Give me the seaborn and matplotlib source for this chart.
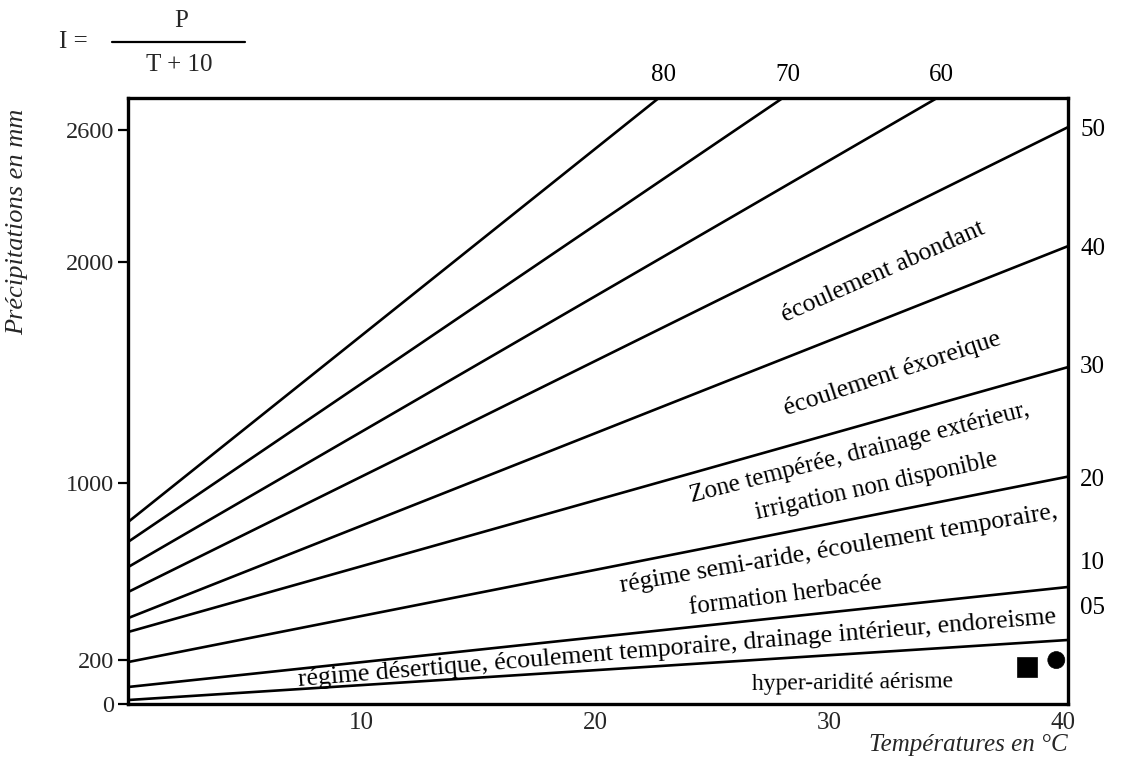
import matplotlib
matplotlib.use("Agg")
import math
import matplotlib.pyplot as plt
import seaborn as sns
import pandas as pd
from matplotlib.lines import Line2D

# ---- data ----
index_labels = ["80", "70", "60", "50", "40", "30", "20", "10", "05"]
start_T = [0, 0, 0, 0, 0, 0, 0, 0, 0]
start_P = [824, 734, 620, 507, 389, 326, 190, 77, 18]
end_T = [22.7, 28.0, 34.6, 40.2, 40.2, 40.2, 40.2, 40.2, 40.2]
end_P = [2745, 2745, 2745, 2613, 2074, 1526, 1030, 530, 290]

station_names = ["carré", "rond"]
station_T = [38.45, 39.7]
station_P = [168, 199]

y_ticks = [0, 200, 1000, 2000, 2600]
x_ticks = [10, 20, 30, 40]

zone_texts = [
    "écoulement abondant",
    "écoulement éxoreique",
    "Zone tempérée, drainage extérieur,",
    "irrigation non disponible",
    "régime semi-aride, écoulement temporaire,",
    "formation herbacée",
    "régime désertique, écoulement temporaire, drainage intérieur, endoreisme",
    "hyper-aridité aérisme",
]
# layout: band (lower line, upper line), temperature of centre, fraction in band
zone_lower = ["40", "30", "20", "20", "10", "10", "05", None]
zone_upper = ["50", "40", "30", "30", "20", "20", "10", "05"]
zone_T = [32.3, 32.7, 31.3, 32.0, 30.4, 28.1, 23.5, 31.0]
zone_frac = [0.47, 0.42, 0.70, 0.30, 0.70, 0.26, 0.45, 0.42]
zone_size = [18.5, 18.5, 18, 18, 18.5, 18, 18.5, 17]

right_labels = ["50", "40", "30", "20", "10", "05"]
right_label_P = [2600, 2060, 1526, 1014, 639, 435]
top_labels = ["80", "70", "60"]

# ---- build table ----
rows = []
for lab, t0, p0, t1, p1 in zip(index_labels, start_T, start_P, end_T, end_P):
    rows.append({"I": lab, "T": t0, "P": p0})
    rows.append({"I": lab, "T": t1, "P": p1})
df = pd.DataFrame(rows)
st = pd.DataFrame({"station": station_names, "T": station_T, "P": station_P})

sns.set_theme(style="white")
plt.rcParams["font.family"] = ["Liberation Serif", "DejaVu Serif"]

fig = plt.figure(figsize=(11.48, 7.69), dpi=100)
ax = fig.add_axes([128 / 1148, 1 - 704 / 769, 940 / 1148, 606 / 769])

sns.lineplot(data=df, x="T", y="P", units="I", estimator=None, color="black",
             linewidth=1.9, ax=ax, legend=False)
sns.scatterplot(data=st, x="T", y="P", style="station", markers={"carré": "s", "rond": "o"},
                color="black", edgecolor="black", ax=ax, legend=False)
ax.collections[-1].set_sizes([210, 150])

ax.set_xlim(0, 40.2)
ax.set_ylim(0, 2745)
ax.set_xticks(x_ticks)
ax.set_xticklabels([str(v) for v in x_ticks], fontsize=18)
ax.set_yticks(y_ticks)
ax.set_yticklabels([str(v) for v in y_ticks], fontsize=17.5)
ax.tick_params(axis="y", direction="out", length=7, width=1.6, color="black", pad=3, left=True)
ax.tick_params(axis="x", length=0, pad=6)
ax.set_xlabel("")
ax.set_ylabel("")
for s in ax.spines.values():
    s.set_color("black")
    s.set_linewidth(2.4)


def line_P(lab, t):
    if lab is None:
        return 0.0
    i = index_labels.index(lab)
    t0, p0, t1, p1 = start_T[i], start_P[i], end_T[i], end_P[i]
    return p0 + (p1 - p0) * (t - t0) / (t1 - t0)


for txt, lo, up, t, f, fs in zip(zone_texts, zone_lower, zone_upper, zone_T, zone_frac, zone_size):
    p = line_P(lo, t) + f * (line_P(up, t) - line_P(lo, t))
    # screen angle of the band's midline
    dt = 2.0
    pa = line_P(lo, t - dt) + f * (line_P(up, t - dt) - line_P(lo, t - dt))
    pb = line_P(lo, t + dt) + f * (line_P(up, t + dt) - line_P(lo, t + dt))
    xa, ya = ax.transData.transform((t - dt, pa))
    xb, yb = ax.transData.transform((t + dt, pb))
    ang = math.degrees(math.atan2(yb - ya, xb - xa))
    if lo is None:
        ang *= 0.5
    ax.text(t, p, txt, rotation=ang, rotation_mode="anchor", ha="center", va="center",
            fontsize=fs, color="black")

for lab, p in zip(right_labels, right_label_P):
    ax.text(1.013, p, lab, transform=ax.get_yaxis_transform(), ha="left", va="center",
            fontsize=18, color="black", clip_on=False)

for lab, t in zip(top_labels, end_T[:3]):
    ax.text(t + 0.2, 1.038, lab, transform=ax.get_xaxis_transform(), ha="center",
            va="center", fontsize=18, color="black", clip_on=False)

fig.text(17 / 1148, 1 - 222 / 769, "Précipitations en mm", rotation=90, ha="center",
         va="center", fontsize=19, style="italic")
fig.text(1068 / 1148, 1 - 745 / 769, "Températures en °C", ha="right", va="center",
         fontsize=18, style="italic")

# formula I = P / (T + 10)
fig.text(73 / 1148, 1 - 42 / 769, "I =", ha="center", va="center", fontsize=18)
fig.text(181 / 1148, 1 - 21 / 769, "P", ha="center", va="center", fontsize=18)
fig.text(179 / 1148, 1 - 65 / 769, "T + 10", ha="center", va="center", fontsize=18)
fig.add_artist(Line2D([112 / 1148, 245 / 1148], [1 - 42 / 769, 1 - 42 / 769],
                      transform=fig.transFigure, color="black", linewidth=1.6))

fig.savefig("out.png", dpi=100)
